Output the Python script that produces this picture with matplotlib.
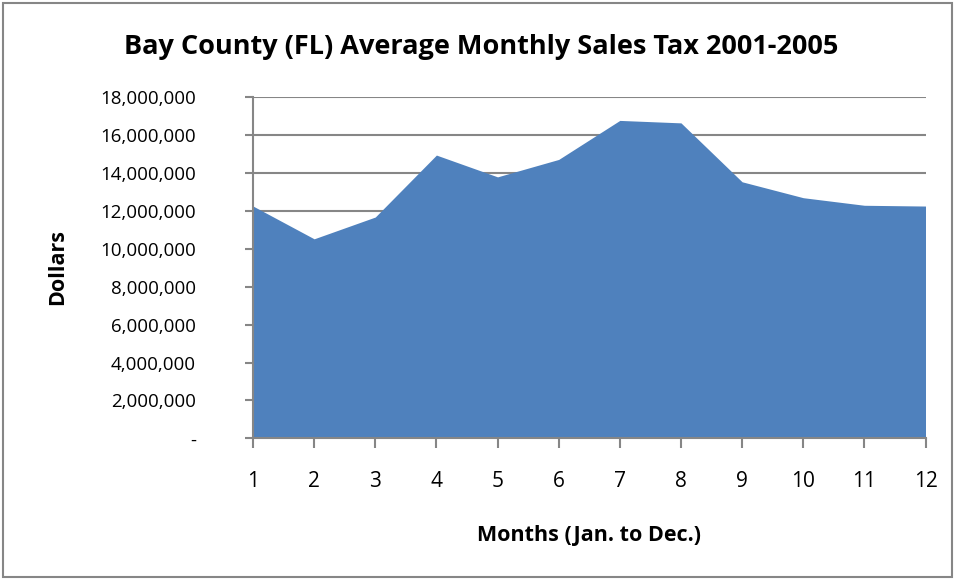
import matplotlib
matplotlib.use("Agg")
import matplotlib.pyplot as plt
from matplotlib.patches import Rectangle
from matplotlib.ticker import FuncFormatter

months = [1, 2, 3, 4, 5, 6, 7, 8, 9, 10, 11, 12]
sales_tax = [12260000, 10530000, 11680000, 14950000, 13800000, 14720000,
             16780000, 16650000, 13540000, 12700000, 12300000, 12260000]
y_ticks = [0, 2000000, 4000000, 6000000, 8000000, 10000000, 12000000,
           14000000, 16000000, 18000000]

title = "Bay County (FL) Average Monthly Sales Tax 2001-2005"
xlabel = "Months (Jan. to Dec.)"
ylabel = "Dollars"

plt.rcParams['font.family'] = ['Open Sans', 'DejaVu Sans']

fig = plt.figure(figsize=(9.56, 5.79), dpi=100)
ax = fig.add_axes([253/956, 1-438.3/579, (925.5-253)/956, (438.3-97.3)/579])

ax.fill_between(months, sales_tax, 0, color='#4F81BD', linewidth=0, zorder=2)
ax.set_xlim(1, 12)
ax.set_ylim(0, 18000000)
ax.set_yticks(y_ticks)
ax.set_xticks(months)
ax.yaxis.set_major_formatter(FuncFormatter(lambda v, p: '-' if v == 0 else f"{int(v):,}"))
ax.grid(axis='y', color='#868686', linewidth=1.5, zorder=1)
ax.set_axisbelow(True)
for s in ['top', 'right']:
    ax.spines[s].set_visible(False)
for s in ['left', 'bottom']:
    ax.spines[s].set_color('#868686')
    ax.spines[s].set_linewidth(1.5)
    ax.spines[s].set_zorder(3)
ax.tick_params(axis='y', length=6, width=1.5, color='#868686', labelsize=13.5, pad=35)
ax.tick_params(axis='x', length=7, width=1.5, color='#868686', labelsize=15, pad=16.5)

fig.text(0.503, 1-47/579, title, fontsize=19.5, fontweight='bold', ha='center', va='center')
fig.text(589/956, 1-536/579, xlabel, fontsize=15.5, fontweight='bold', ha='center', va='center')
fig.text(58/956, 1-267/579, ylabel, fontsize=15.5, fontweight='bold', ha='center', va='center',
         rotation=90)

fig.patches.append(Rectangle((3/956, 2/579), 949/956, 574/579, transform=fig.transFigure,
                             fill=False, edgecolor='#868686', linewidth=1.5))

fig.savefig('out.png', dpi=100)
